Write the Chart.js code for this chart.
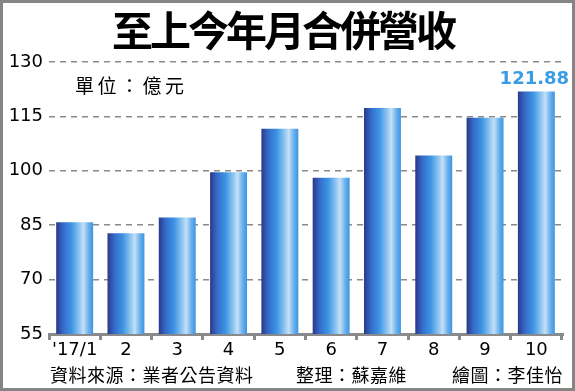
<!DOCTYPE html>
<html>
<head>
<meta charset="utf-8">
<script src="https://cdn.jsdelivr.net/npm/chart.js@4"></script>
<style>
  html, body { margin: 0; padding: 0; background: #fff; }
  canvas { display: block; }
</style>
</head>
<body>
<canvas id="revenueChart"></canvas>
<script>
const months = ["'17/1", "2", "3", "4", "5", "6", "7", "8", "9", "10"];
const revenue = [85.8, 82.8, 87.1, 99.6, 111.6, 98.1, 117.3, 104.2, 114.6, 121.88];
const yTicks = [55, 70, 85, 100, 115, 130];
const highlightLabel = "121.88";

const CJK = '"Noto Sans CJK TC", "Noto Sans CJK SC", sans-serif';
const NUM = '"DejaVu Sans", sans-serif';
const BAR_PCT = 0.72;

function barGradient(c) {
  const chart = c.chart;
  const xs = chart.scales.x;
  if (!xs || c.dataIndex === undefined) return "#3a8ee0";
  const cx = xs.getPixelForValue(c.dataIndex);
  const w = (xs.width / months.length) * BAR_PCT;
  if (!isFinite(cx) || !isFinite(w) || w <= 0) return "#3a8ee0";
  const g = chart.ctx.createLinearGradient(cx - w / 2, 0, cx + w / 2, 0);
  g.addColorStop(0, "#2b3888"); // dark navy edge
  g.addColorStop(0.18, "#3469c8");
  g.addColorStop(0.42, "#3d95e4");
  g.addColorStop(0.62, "#8cc3ef");
  g.addColorStop(0.74, "#c4e0f7"); // highlight
  g.addColorStop(0.88, "#6ab0ec");
  g.addColorStop(1, "#3b94e2");
  return g;
}

// texts drawn around the plot
const decorations = {
  id: "decorations",
  beforeDraw(chart) {
    const ctx = chart.ctx;
    ctx.save();
    ctx.fillStyle = "#fff";
    ctx.fillRect(0, 0, chart.width, chart.height);
    ctx.restore();
  },
  afterDraw(chart) {
    const ctx = chart.ctx;
    ctx.save();
    // frame
    ctx.strokeStyle = "#858585";
    ctx.lineWidth = 3;
    ctx.strokeRect(1.5, 1.5, chart.width - 3, chart.height - 3);

    // title
    ctx.fillStyle = "#000";
    ctx.textAlign = "center";
    ctx.textBaseline = "middle";
    ctx.font = "bold 41px " + CJK;
    ctx.letterSpacing = "-3px";
    ctx.fillText("至上今年月合併營收", 283, 30);

    // unit
    ctx.textAlign = "left";
    ctx.font = "19px " + CJK;
    ctx.letterSpacing = "3.5px";
    ctx.fillText("單位：億元", 75, 86);

    // footer
    ctx.font = "18px " + CJK;
    ctx.letterSpacing = "0.5px";
    ctx.fillText("資料來源：業者公告資料", 50, 375);
    ctx.fillText("整理：蘇嘉維", 296, 375);
    ctx.fillText("繪圖：李佳怡", 452, 375);

    // value label on the last bar
    const meta = chart.getDatasetMeta(0);
    const last = meta.data[meta.data.length - 1];
    ctx.letterSpacing = "0px";
    ctx.textAlign = "center";
    ctx.textBaseline = "alphabetic";
    ctx.fillStyle = "#3a9ce2";
    ctx.font = "bold 18px " + NUM;
    ctx.fillText(highlightLabel, last.x - 2, last.y - 7);
    ctx.restore();
  }
};

const canvas = document.getElementById("revenueChart");
canvas.width = 575;
canvas.height = 391;

new Chart(canvas.getContext("2d"), {
  type: "bar",
  data: {
    labels: months,
    datasets: [{
      data: revenue,
      backgroundColor: barGradient,
      borderWidth: 0,
      barPercentage: BAR_PCT,
      categoryPercentage: 1
    }]
  },
  options: {
    responsive: false,
    animation: false,
    events: [],
    layout: { padding: { top: 62, left: 0, right: 13, bottom: 0 } },
    plugins: {
      legend: { display: false },
      tooltip: { enabled: false }
    },
    scales: {
      x: {
        afterFit(scale) { scale.height = 57; },
        grid: {
          offset: true,
          drawOnChartArea: false,
          drawTicks: true,
          tickLength: 6,
          color: "#8a8a8a",
          lineWidth: 3
        },
        border: { display: true, color: "#8a8a8a", width: 3 },
        ticks: {
          color: "#000",
          padding: 0,
          font: { family: NUM, size: 18 },
          maxRotation: 0,
          autoSkip: false
        }
      },
      y: {
        min: yTicks[0],
        max: yTicks[yTicks.length - 1],
        afterFit(scale) { scale.width = 49; },
        afterBuildTicks(scale) { scale.ticks = yTicks.map(v => ({ value: v })); },
        border: { display: false, dash: [6, 5] },
        grid: {
          drawTicks: false,
          color: "#8a8a8a",
          lineWidth: 1.5
        },
        ticks: {
          color: "#000",
          padding: 6,
          font: { family: NUM, size: 18 }
        }
      }
    }
  },
  plugins: [decorations]
});
</script>
</body>
</html>
